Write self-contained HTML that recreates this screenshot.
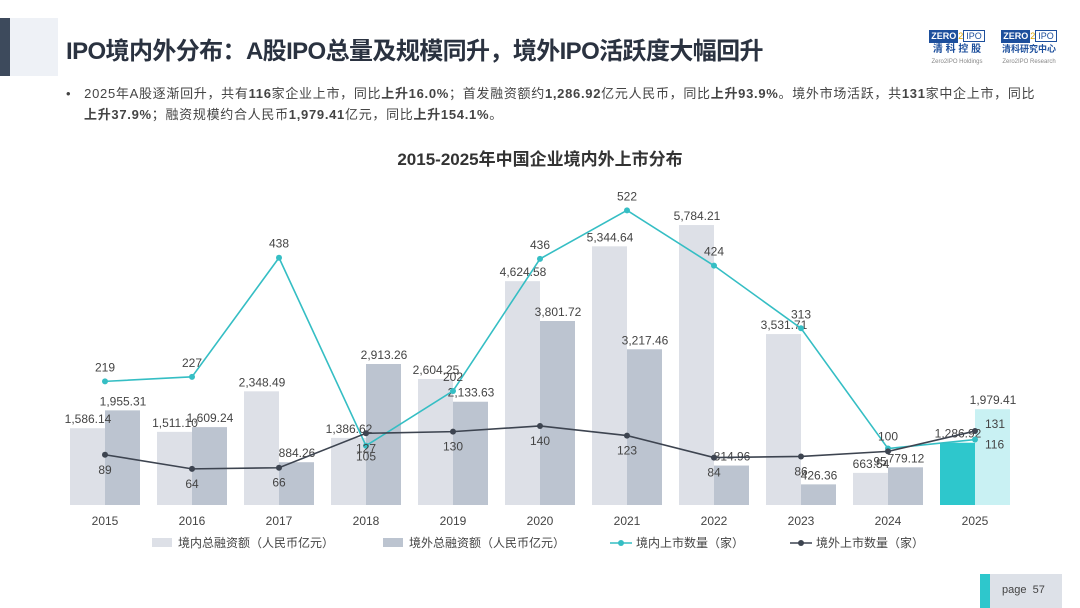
<!DOCTYPE html>
<html><head><meta charset="utf-8"><style>
body{margin:0;width:1080px;height:608px;background:#fff;overflow:hidden;font-family:"Liberation Sans","Noto Sans CJK SC",sans-serif;position:relative}
.abs{position:absolute}
</style></head><body>
<div class="abs" style="left:0;top:18px;width:10px;height:58px;background:#3d4a5c"></div>
<div class="abs" style="left:10px;top:18px;width:48px;height:58px;background:#eef1f6"></div>
<div class="abs" style="left:66px;top:31px;font-size:24px;font-weight:bold;color:#2a3240;letter-spacing:-0.6px">IPO境内外分布：A股IPO总量及规模同升，境外IPO活跃度大幅回升</div>
<div class="abs" style="left:926px;top:30px;width:62px;text-align:center;font-size:9px;color:#1d4f9c;line-height:13px"><div style="background:#1d4f9c;color:#fff;font-weight:bold;display:inline-block;padding:0 2px">ZERO</div><span style="color:#e0a800">2</span><span style="border:1px solid #1d4f9c;padding:0 2px">IPO</span><div style="font-weight:bold;font-size:10px">清 科 控 股</div><div style="font-size:6px;color:#888">Zero2IPO Holdings</div></div>
<div class="abs" style="left:996px;top:30px;width:66px;text-align:center;font-size:9px;color:#1d4f9c;line-height:13px"><div style="background:#1d4f9c;color:#fff;font-weight:bold;display:inline-block;padding:0 2px">ZERO</div><span style="color:#e0a800">2</span><span style="border:1px solid #1d4f9c;padding:0 2px">IPO</span><div style="font-weight:bold;font-size:9px">清科研究中心</div><div style="font-size:6px;color:#888">Zero2IPO Research</div></div>
<div class="abs" style="left:66px;top:83px;width:1000px;font-size:13px;line-height:21px;color:#444;letter-spacing:0.7px">•&nbsp;&nbsp; 2025年A股逐渐回升，共有<b>116</b>家企业上市，同比<b>上升16.0%</b>；首发融资额约<b>1,286.92</b>亿元人民币，同比<b>上升93.9%</b>。境外市场活跃，共<b>131</b>家中企上市，同比<br><span style="margin-left:18px"></span><b>上升37.9%</b>；融资规模约合人民币<b>1,979.41</b>亿元，同比<b>上升154.1%</b>。</div>
<div class="abs" style="left:0;width:1080px;top:145px;text-align:center;font-size:17px;font-weight:bold;color:#333">2015-2025年中国企业境内外上市分布</div>
<svg class="abs" style="left:0;top:0" width="1080" height="608" id="chart"></svg>
<div class="abs" style="left:980px;top:574px;width:82px;height:34px;background:#dde1e8"><div style="position:absolute;left:0;top:0;width:10px;height:34px;background:#2ec7cc"></div><span style="position:absolute;left:22px;top:10px;font-size:11px;color:#444">page&nbsp;&nbsp;57</span></div>
<script>
const years=["2015","2016","2017","2018","2019","2020","2021","2022","2023","2024","2025"];
const domesticAmt=[1586.14,1511.10,2348.49,1386.62,2604.25,4624.58,5344.64,5784.21,3531.71,663.54,1286.92];
const overseasAmt=[1955.31,1609.24,884.26,2913.26,2133.63,3801.72,3217.46,814.96,426.36,779.12,1979.41];
const domesticCnt=[219,227,438,105,202,436,522,424,313,100,116];
const overseasCnt=[89,64,66,127,130,140,123,84,86,95,131];
const NS="http://www.w3.org/2000/svg";
const svg=document.getElementById("chart");
const base=505;
const x=i=>105+i*87;
const yA=v=>base-v*0.0484;
const yC=v=>base-v*0.5645;
const fmt=v=>v.toLocaleString("en-US",{minimumFractionDigits:2,maximumFractionDigits:2});
function el(t,a){const e=document.createElementNS(NS,t);for(const k in a)e.setAttribute(k,a[k]);svg.appendChild(e);return e;}
function txt(s,xx,yy,name,anchor){const e=el("text",{x:xx,y:yy,"font-size":12,fill:"#444","text-anchor":anchor||"middle","font-family":"Liberation Sans, Noto Sans CJK SC, sans-serif"});e.textContent=s;return e;}
years.forEach((yr,i)=>{
 const last=i===years.length-1;
 let r=el("rect",{x:x(i)-35,y:yA(domesticAmt[i]),width:35,height:base-yA(domesticAmt[i]),fill:last?"#2ec7cc":"#dde0e7"});
 
 r=el("rect",{x:x(i),y:yA(overseasAmt[i]),width:35,height:base-yA(overseasAmt[i]),fill:last?"#c9f1f3":"#bcc4d0"});
 
 txt(fmt(domesticAmt[i]),x(i)-17,yA(domesticAmt[i])-5,'domestic-amount-label');
 txt(fmt(overseasAmt[i]),x(i)+18,yA(overseasAmt[i])-5,'overseas-amount-label');
 txt(yr,x(i),525,'x-tick-label');
});
function line(vals,color,name){
 const p=el("polyline",{points:vals.map((v,i)=>x(i)+","+yC(v)).join(" "),fill:"none",stroke:color,"stroke-width":1.6});
 
 vals.forEach((v,i)=>{const c=el("circle",{cx:x(i),cy:yC(v),r:3,fill:color});});
}
line(domesticCnt,"#35bec4","domestic-count-line");
line(overseasCnt,"#3d4450","overseas-count-line");
domesticCnt.forEach((v,i)=>{
 if(i===10)txt(v,x(i)+10,yC(v)+9,'domestic-count-label','start');
 else if(i===3)txt(v,x(i),yC(v)+15,'domestic-count-label');
 else if(i===9)txt(v,x(i),yC(v)-8,'domestic-count-label');
 else txt(v,x(i),yC(v)-10,'domestic-count-label');
});
overseasCnt.forEach((v,i)=>{
 if(i===10)txt(v,x(i)+10,yC(v)-3,'overseas-count-label','start');
 else if(i===9)txt(v,x(i)-8,yC(v)+14,'overseas-count-label');
 else txt(v,x(i),yC(v)+19,'overseas-count-label');
});
const legend=[["境内总融资额（人民币亿元）","#dde0e7","bar",152],["境外总融资额（人民币亿元）","#bcc4d0","bar",383],["境内上市数量（家）","#35bec4","line",610],["境外上市数量（家）","#3d4450","line",790]];
legend.forEach(l=>{
 if(l[2]==="bar"){const r=el("rect",{x:l[3],y:538,width:20,height:9,fill:l[1]});}
 else{const ln=el("line",{x1:l[3],y1:543,x2:l[3]+22,y2:543,stroke:l[1],"stroke-width":1.6});
  const c=el("circle",{cx:l[3]+11,cy:543,r:3,fill:l[1]});}
 txt(l[0],l[3]+26,547,'legend-entry','start');
});
</script>
</body></html>
